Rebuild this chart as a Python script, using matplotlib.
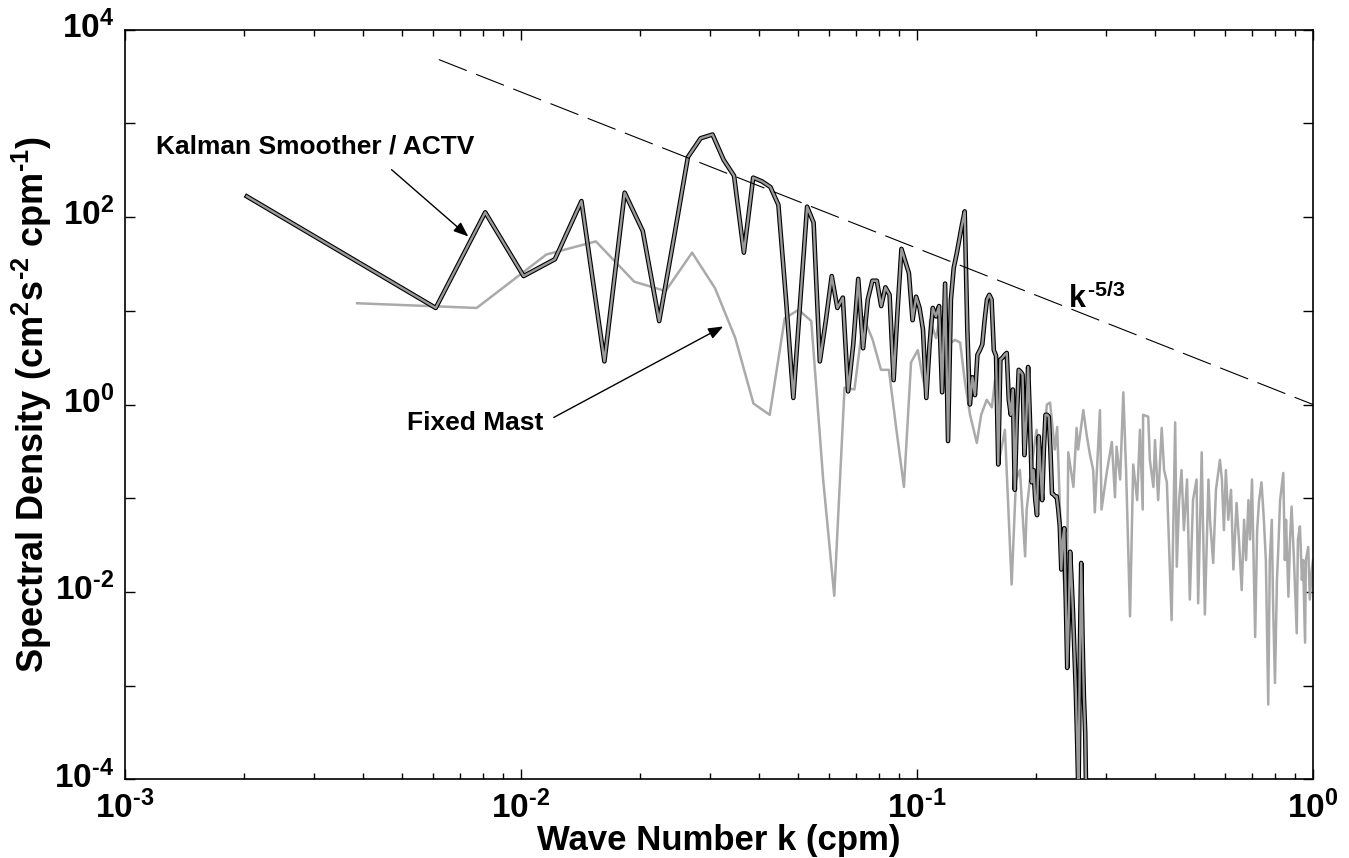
import numpy as np
import matplotlib
matplotlib.use("Agg")
import matplotlib.pyplot as plt
from matplotlib.ticker import LogLocator, NullLocator, NullFormatter
from matplotlib.transforms import ScaledTranslation

plt.rcParams['font.family'] = ['Liberation Sans', 'DejaVu Sans']
plt.rcParams['font.weight'] = 'bold'
plt.rcParams['mathtext.fontset'] = 'custom'
plt.rcParams['mathtext.rm'] = 'Liberation Sans:bold'
plt.rcParams['mathtext.bf'] = 'Liberation Sans:bold'
plt.rcParams['mathtext.it'] = 'Liberation Sans:bold'
plt.rcParams['axes.unicode_minus'] = False

# Kalman smoother / ACTV: one value per frequency bin, log10 of spectral density
kal_dk = 0.00203
kal_log_s = [
    2.22, 1.47, 1.03, 2.05, 1.37, 1.55, 2.17, 0.46, 2.26, 1.85,
    0.89, 1.79, 2.64, 2.84, 2.88, 2.61, 2.44, 1.62, 2.42, 2.38,
    2.32, 2.13, 1.12, 0.07, 1.12, 2.11, 1.94, 0.46, 0.90, 1.37,
    1.03, 1.14, 0.14, 0.64, 1.34, 0.60, 1.12, 1.32, 1.32, 1.05,
    1.25, 1.17, 0.26, 1.01, 1.66, 1.53, 1.40, 0.90, 1.15, 1.03,
    0.80, 0.07, 0.64, 1.03, 0.94, 1.05, 0.13, 1.29, -0.39, 1.12,
    1.46, 1.60, 1.76, 1.92, 2.06, 0.80, 0.00, 0.29, 0.10, 0.53,
    0.58, 0.64, 0.90, 1.12, 1.17, 1.12, 0.58, 0.52, -0.64, 0.48,
    0.50, 0.53, 0.55, 0.05, -0.11, 0.16, -0.91, -0.16, 0.37, 0.35,
    0.32, -0.54, -0.16, 0.40, -0.16, -0.83, -0.70, -1.02, -1.18, -0.34,
    -0.70, -1.02, -0.48, -0.11, -0.11, -0.13, -0.48, -0.95, -0.96, -0.98,
    -0.98, -1.12, -1.30, -1.76, -1.44, -1.32, -2.08, -2.81, -2.30, -1.57,
    -1.87, -2.21, -2.62, -3.04, -3.58, -4.22, -2.62, -1.69, -2.51, -3.12,
    -3.50, -4.43,
]

# Fixed mast: log10 wavenumber and log10 spectral density
mast_log_k = [
    -2.414, -2.112, -1.936, -1.811, -1.714, -1.635, -1.568, -1.510, -1.459, -1.413,
    -1.372, -1.334, -1.299, -1.267, -1.237, -1.209, -1.183, -1.158, -1.135, -1.112,
    -1.091, -1.071, -1.052, -1.033, -1.015, -0.998, -0.987, -0.975, -0.967, -0.952,
    -0.942, -0.927, -0.904, -0.891, -0.879, -0.866, -0.849, -0.838, -0.824, -0.811,
    -0.803, -0.790, -0.778, -0.761, -0.750, -0.740, -0.727, -0.723, -0.712, -0.698,
    -0.687, -0.672, -0.664, -0.652, -0.646, -0.639, -0.631, -0.622, -0.618, -0.605,
    -0.597, -0.593, -0.580, -0.571, -0.563, -0.555, -0.551, -0.538, -0.534, -0.521,
    -0.508, -0.500, -0.496, -0.487, -0.479, -0.472, -0.462, -0.454, -0.444, -0.437,
    -0.430, -0.429, -0.416, -0.412, -0.403, -0.399, -0.391, -0.382, -0.376, -0.369,
    -0.364, -0.357, -0.348, -0.344, -0.338, -0.332, -0.326, -0.318, -0.311, -0.303,
    -0.294, -0.290, -0.281, -0.278, -0.273, -0.264, -0.260, -0.252, -0.245, -0.235,
    -0.230, -0.225, -0.220, -0.214, -0.207, -0.201, -0.193, -0.187, -0.180, -0.174,
    -0.169, -0.163, -0.159, -0.154, -0.146, -0.141, -0.136, -0.130, -0.124, -0.119,
    -0.113, -0.109, -0.104, -0.101, -0.096, -0.091, -0.088, -0.083, -0.075, -0.071,
    -0.068, -0.062, -0.058, -0.054, -0.048, -0.041, -0.038, -0.033, -0.028, -0.025,
    -0.020, -0.018, -0.012, -0.008, -0.003, 0.000,
]
mast_log_s = [
    1.08, 1.03, 1.60, 1.74, 1.31, 1.21, 1.62, 1.24, 0.71, 0.01,
    -0.11, 0.92, 1.01, 0.89, -0.80, -2.04, 0.18, 0.16, 0.93, 0.69,
    0.37, 0.37, -0.27, -0.88, 0.45, 0.58, 0.32, 0.08, 0.90, 0.71,
    0.93, 0.62, 0.69, 0.66, 0.24, -0.11, -0.41, -0.11, 0.05, -0.03,
    0.26, -0.54, -0.27, -1.92, -0.80, -0.70, -1.62, -1.12, -0.70, -0.27,
    -0.70, 0.00, 0.02, -0.48, -0.24, -1.12, -1.76, -2.30, -0.51, -0.88,
    -0.25, -0.48, -0.06, -0.34, -0.54, -0.70, -1.15, -0.06, -1.12, -0.73,
    -0.40, -0.99, -0.45, -0.80, 0.13, -0.70, -2.26, -0.64, -1.02, -0.27,
    -1.12, -0.11, -0.13, -0.59, -0.88, -0.38, -1.02, -0.25, -0.70, -0.83,
    -1.44, -2.30, -0.19, -1.73, -1.02, -0.70, -1.34, -0.80, -2.08, -1.02,
    -0.80, -2.12, -0.51, -1.23, -2.24, -0.80, -1.23, -1.69, -0.91, -0.59,
    -0.80, -1.34, -0.70, -1.23, -0.91, -1.76, -1.05, -1.44, -1.98, -1.23,
    -1.66, -1.02, -1.44, -0.80, -2.48, -1.34, -1.02, -0.83, -1.23, -1.66,
    -3.20, -1.66, -1.23, -2.08, -2.97, -1.87, -1.58, -1.02, -0.73, -1.66,
    -1.23, -2.05, -1.44, -1.09, -1.66, -2.44, -1.44, -1.30, -1.87, -1.66,
    -2.54, -1.66, -1.52, -2.08, -1.76, -1.66,
]

# k^-5/3 reference line
ref_k = [0.0062, 1.0]
ref_amp = 1.0

kal_k = kal_dk * np.arange(1, len(kal_log_s) + 1)
kal_s = 10.0 ** np.array(kal_log_s)
mast_k = 10.0 ** np.array(mast_log_k)
mast_s = 10.0 ** np.array(mast_log_s)
ref_s = ref_amp * np.array(ref_k) ** (-5.0 / 3.0)

fig = plt.figure(figsize=(13.49, 8.58), dpi=100)
ax = fig.add_axes([0.0927, 0.0915, 0.8806, 0.8741])

ax.plot(mast_k, mast_s, color='#aaaaaa', lw=1.8, solid_joinstyle='round', zorder=2)
ax.plot(kal_k, kal_s, color='black', lw=3.3, solid_joinstyle='round', zorder=3)
ax.plot(kal_k, kal_s, color='#9a9a9a', lw=1.7, solid_joinstyle='round', zorder=4)
ax.plot(ref_k, ref_s, color='black', lw=0.8, dashes=(27, 9), zorder=5)

ax.set_xscale('log')
ax.set_yscale('log')
ax.set_xlim(1e-3, 1e0)
ax.set_ylim(1e-4, 1e4)

# hyphen-style minus in the exponents, as in the original
ax.set_xticks([1e-3, 1e-2, 1e-1, 1e0])
ax.set_xticklabels([r'$10^{\text{-3}}$', r'$10^{\text{-2}}$',
                    r'$10^{\text{-1}}$', r'$10^{0}$'])
ax.xaxis.set_minor_locator(LogLocator(base=10, subs=np.arange(2, 10)))
ax.xaxis.set_minor_formatter(NullFormatter())

yt = [10.0 ** e for e in range(-4, 5)]
ax.set_yticks(yt)
ax.set_yticklabels([r'$10^{\text{%d}}$' % e if e % 2 == 0 else '' for e in range(-4, 5)])
ax.yaxis.set_minor_locator(NullLocator())

ax.tick_params(which='both', direction='in', top=True, right=True, width=1.0,
               labelsize=24)
ax.tick_params(which='major', length=7.5)
ax.tick_params(which='minor', length=4.5)
ax.tick_params(axis='x', pad=8)
ax.tick_params(axis='y', pad=8)
for sp in ax.spines.values():
    sp.set_linewidth(1.2)

# lift the y tick labels a little, as in the original
lift = ScaledTranslation(0, 4 / 72, fig.dpi_scale_trans)
for lab in ax.get_yticklabels():
    lab.set_transform(lab.get_transform() + lift)

ax.set_xlabel('Wave Number k (cpm)', fontsize=25, fontweight='bold', labelpad=-1)
ax.set_ylabel(r'Spectral Density (cm$^{2}$s$^{\text{-2}}$ cpm$^{\text{-1}}$)',
              fontsize=26, fontweight='bold', labelpad=0)

ax.text(0.00302, 568, 'Kalman Smoother / ACTV', fontsize=19, fontweight='bold',
        ha='center', va='center')
ax.annotate('', xy=(0.00736, 62), xytext=(0.00471, 320),
            arrowprops=dict(arrowstyle='-|>,head_length=0.9,head_width=0.35',
                            color='black', lw=1.0, shrinkA=0, shrinkB=0))
ax.text(0.00764, 0.64, 'Fixed Mast', fontsize=19, fontweight='bold',
        ha='center', va='center')
ax.annotate('', xy=(0.0324, 6.8), xytext=(0.0121, 0.728),
            arrowprops=dict(arrowstyle='-|>,head_length=0.9,head_width=0.35',
                            color='black', lw=1.0, shrinkA=0, shrinkB=0))
ax.text(0.2406, 10.8, r'$k^{\text{-5/3}}$', fontsize=22, ha='left', va='baseline')

fig.savefig('out.png', dpi=100)
